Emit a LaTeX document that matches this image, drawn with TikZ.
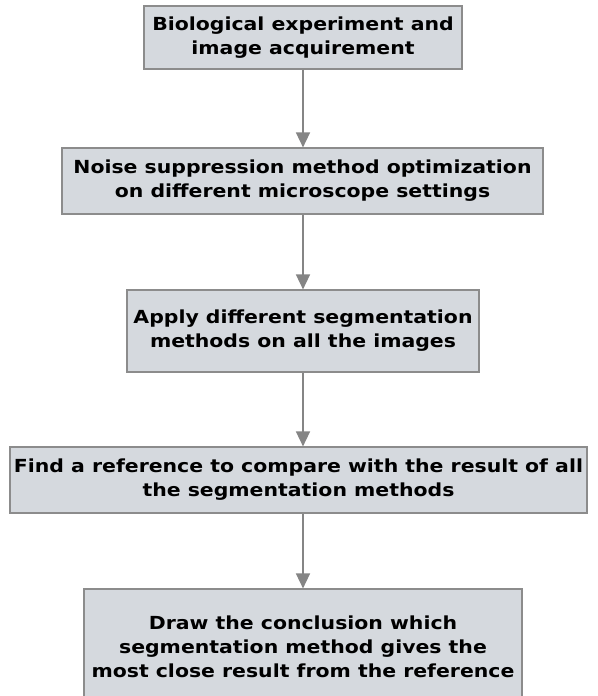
\documentclass[tikz,border=0pt]{standalone}
\usepackage{fontspec}
\setmainfont{DejaVu Sans}
\newfontfamily\boxfont[FakeStretch=1.135]{DejaVu Sans}
\usetikzlibrary{arrows.meta}
\definecolor{boxfill}{HTML}{D5D9DE}
\definecolor{boxline}{HTML}{8C8C8C}
\definecolor{arrowgrey}{HTML}{858585}
\tikzset{
  stage/.style={draw=boxline, line width=1.2pt, fill=boxfill, align=center,
    font=\boxfont\fontsize{18}{24}\selectfont\bfseries, inner sep=0pt},
  flow/.style={draw=arrowgrey, line width=1.6pt,
    -{Triangle[width=14pt,length=15pt]}, arrowgrey}
}
\begin{document}
\begin{tikzpicture}[x=1pt, y=-1pt]
        \clip (0,0) rectangle (597,696);
        \fill[white] (0,0) rectangle (597,696);
        % stages of the work
        \node[stage, minimum width=318pt, minimum height=63pt] (acquire) at (303,37.5)
          {Biological experiment and\\image acquirement};
        \node[stage, minimum width=481pt, minimum height=66pt] (denoise) at (302.5,181)
          {Noise suppression method optimization\\on different microscope settings};
        \node[stage, minimum width=352pt, minimum height=82pt] (segment) at (303,331)
          {Apply different segmentation\\methods on all the images};
        \node[stage, minimum width=577pt, minimum height=66pt] (reference) at (298.5,480)
          {Find a reference to compare with the result of all\\the segmentation methods};
        \node[stage, minimum width=438pt, minimum height=116pt] (conclude) at (303,647)
          {Draw the conclusion which\\segmentation method gives the\\most close result from the reference};
        % connectors
        \draw[flow] (acquire.south) -- (acquire.south |- denoise.north);
        \draw[flow] (acquire.south |- denoise.south) -- (acquire.south |- segment.north);
        \draw[flow] (segment.south) -- (segment.south |- reference.north);
        \draw[flow] (segment.south |- reference.south) -- (conclude.north);
        \end{tikzpicture}
\end{document}
